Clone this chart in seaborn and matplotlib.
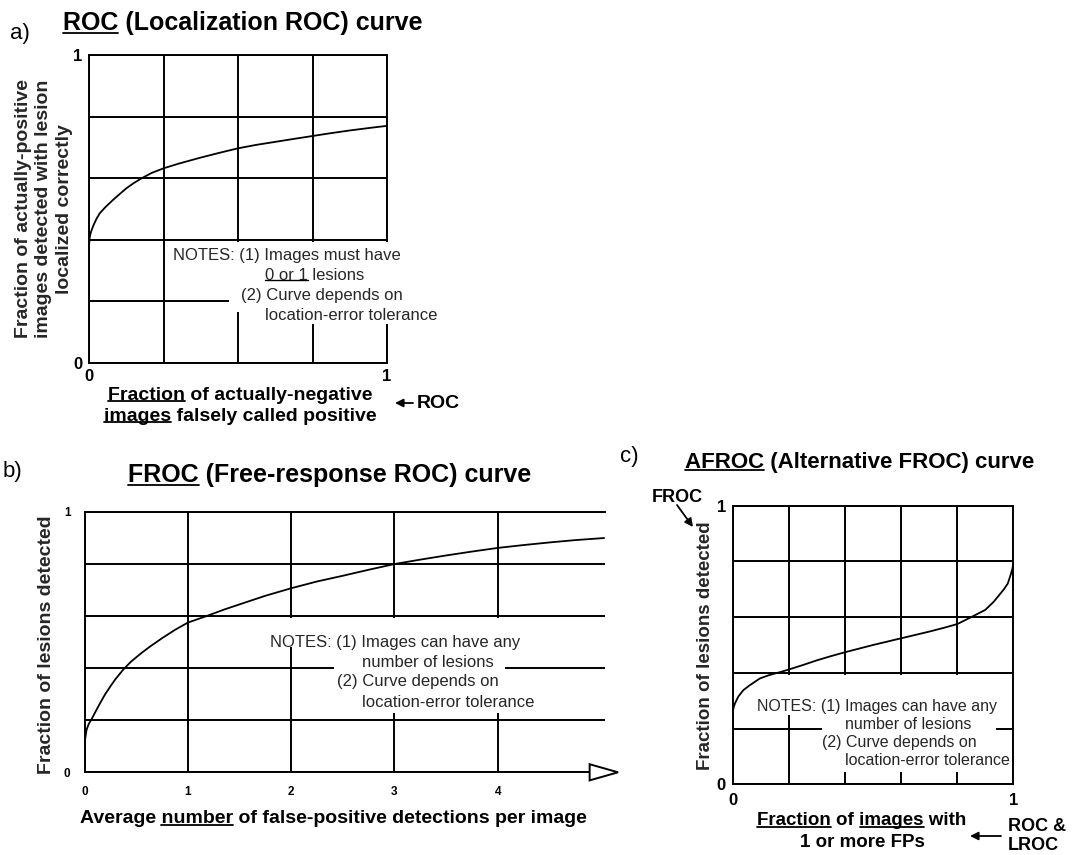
import numpy as np
import pandas as pd
import seaborn as sns
import matplotlib.pyplot as plt
from matplotlib.patches import Rectangle, Polygon, FancyArrowPatch
from matplotlib.lines import Line2D

# figure size in pixels
W, H = 1072, 855

# curve values
roc_x = [0, 0.002, 0.005, 0.009, 0.015, 0.025, 0.036, 0.055, 0.08, 0.1, 0.125, 0.15, 0.177,
         0.21, 0.25, 0.3, 0.375, 0.44, 0.5, 0.56, 0.625, 0.69, 0.75, 0.81, 0.875, 0.94, 1.0]
roc_y = [0.378, 0.405, 0.42, 0.432, 0.447, 0.468, 0.486, 0.506, 0.529, 0.546, 0.567, 0.584, 0.6,
         0.617, 0.632, 0.647, 0.667, 0.683, 0.697, 0.708, 0.718, 0.728, 0.737, 0.746, 0.755, 0.763, 0.77]

froc_x = [0, 0.005, 0.02, 0.04, 0.07, 0.1, 0.15, 0.2, 0.25, 0.3, 0.376, 0.45, 0.55, 0.634, 0.75,
          0.875, 1.0, 1.18, 1.35, 1.5, 1.75, 2.0, 2.25, 2.5, 2.75, 3.0, 3.25, 3.5, 3.75, 4.0,
          4.25, 4.5, 4.75, 5.03]
froc_y = [0.10, 0.125, 0.163, 0.185, 0.205, 0.228, 0.265, 0.3, 0.33, 0.358, 0.395, 0.425, 0.458, 0.483,
          0.515, 0.547, 0.575, 0.6, 0.625, 0.645, 0.678, 0.707, 0.733, 0.755, 0.778, 0.8, 0.817,
          0.833, 0.848, 0.862, 0.873, 0.883, 0.892, 0.9]

afroc_x = [0, 0.003, 0.008, 0.02, 0.038, 0.06, 0.097, 0.13, 0.17, 0.2, 0.25, 0.3, 0.35, 0.4, 0.45,
           0.5, 0.55, 0.6, 0.65, 0.7, 0.75, 0.8, 0.85, 0.9, 0.93, 0.965, 0.98, 0.99, 0.997, 1.0]
afroc_y = [0.255, 0.275, 0.29, 0.315, 0.338, 0.355, 0.38, 0.392, 0.403, 0.412, 0.428, 0.445, 0.46, 0.474,
           0.487, 0.5, 0.512, 0.524, 0.536, 0.548, 0.561, 0.575, 0.6, 0.626, 0.655, 0.698, 0.72,
           0.75, 0.775, 0.795]

# grid positions and tick labels
a_xticks = [0, 0.25, 0.5, 0.75, 1]
a_yticks = [0, 0.2, 0.4, 0.6, 0.8, 1]
b_xticks = [0, 1, 2, 3, 4]
b_yticks = [0, 0.2, 0.4, 0.6, 0.8, 1]
c_xticks = [0, 0.2, 0.4, 0.6, 0.8, 1]
c_yticks = [0, 0.2, 0.4, 0.6, 0.8, 1]
a_xlabels = ['0', '', '', '', '1']
a_ylabels = ['0', '', '', '', '', '1']
b_xlabels = ['0', '1', '2', '3', '4']
b_ylabels = ['0', '', '', '', '', '1']
c_xlabels = ['0', '', '', '', '', '1']
c_ylabels = ['0', '', '', '', '', '1']

sns.set_theme(style='white')
plt.rcParams['font.family'] = ['Liberation Sans', 'DejaVu Sans']

fig = plt.figure(figsize=(W / 100, H / 100), dpi=100)
renderer = fig.canvas.get_renderer()

LW = 1.4


def fx(x):
    return x / W


def fy(y):
    return 1 - y / H


def axes_px(left, top, right, bottom):
    return fig.add_axes([fx(left), fy(bottom), (right - left) / W, (bottom - top) / H])


def style_axes(ax, xt, yt, xl, yl, size, xpad, ypad):
    ax.set_xticks(xt)
    ax.set_yticks(yt)
    ax.set_xticklabels(xl, fontsize=size, fontweight='bold')
    ax.set_yticklabels(yl, fontsize=size, fontweight='bold')
    ax.tick_params(axis='x', length=0, pad=xpad, colors='black')
    ax.tick_params(axis='y', length=0, pad=ypad, colors='black')
    ax.grid(True, color='black', lw=LW)
    for s in ax.spines.values():
        s.set_color('black')
        s.set_linewidth(LW)
    ax.set_xlabel('')
    ax.set_ylabel('')


def measure(s, fp):
    t = fig.text(0, 0, s, fontproperties=fp)
    w = t.get_window_extent(renderer).width
    t.remove()
    return w


def underline(t, sub, lw=1.3, off=2):
    s = t.get_text()
    fp = t.get_fontproperties()
    bb = t.get_window_extent(renderer)
    i = s.index(sub)
    w_end = measure(s[:i] + sub, fp)
    x0 = bb.x0 + (w_end - measure(sub, fp) if i > 0 else 0)
    x1 = bb.x0 + w_end
    yy = bb.y0 + off
    fig.add_artist(Line2D([x0 / W, x1 / W], [yy / H, yy / H], color='black', lw=lw))


def ftext(x, y, s, ha='left', **kw):
    return fig.text(fx(x), fy(y), s, ha=ha, va='center', color='black', **kw)


def blank(ax, x0, y0, x1, y1):
    ax.add_patch(Rectangle((x0, y0), x1 - x0, y1 - y0, fc='white', ec='none',
                           zorder=2.6, clip_on=False))


def arrow(p0, p1):
    fig.add_artist(FancyArrowPatch((fx(p0[0]), fy(p0[1])), (fx(p1[0]), fy(p1[1])),
                                   transform=fig.transFigure, arrowstyle='-|>',
                                   mutation_scale=12, color='black', lw=1.3,
                                   shrinkA=0, shrinkB=0))


# ---------------- a) ROC ----------------
ax_a = axes_px(89, 55, 387, 363)
sns.lineplot(x=roc_x, y=roc_y, ax=ax_a, color='black', lw=1.3, zorder=4)
ax_a.set_xlim(0, 1)
ax_a.set_ylim(0, 1)
style_axes(ax_a, a_xticks, a_yticks, a_xlabels, a_ylabels, 12, 4, 5)
blank(ax_a, 0.47, 0.165, 0.56, 0.394)
blank(ax_a, 0.56, 0.125, 1.02, 0.394)
ax_a.text(0.282, 0.35, 'NOTES: (1) Images must have', fontsize=12, va='center', zorder=3)
t = ax_a.text(0.59, 0.284, '0 or 1 lesions', fontsize=12, va='center', zorder=3)
underline(t, '0 or 1', lw=1.0, off=3)
ax_a.text(0.51, 0.218, '(2) Curve depends on', fontsize=12, va='center', zorder=3)
ax_a.text(0.59, 0.154, 'location-error tolerance', fontsize=12, va='center', zorder=3)

ftext(10, 33, 'a)', fontsize=16)
t = ftext(63, 23, 'ROC (Localization ROC) curve', fontsize=18, fontweight='bold')
underline(t, 'ROC')
fig.text(fx(44), fy(209), 'Fraction of actually-positive\nimages detected with lesion\nlocalized correctly',
         rotation=90, ha='center', va='center', fontsize=14, fontweight='bold',
         linespacing=1.25, multialignment='center')
t = ftext(240, 395, 'Fraction of actually-negative', ha='center', fontsize=14, fontweight='bold')
underline(t, 'Fraction')
t = ftext(240, 416, 'images falsely called positive', ha='center', fontsize=14, fontweight='bold')
underline(t, 'images')
arrow((413, 403), (395, 403))
ftext(417, 403, 'ROC', fontsize=14, fontweight='bold')

# ---------------- b) FROC ----------------
ax_b = axes_px(84.5, 512, 605, 772.3)
sns.lineplot(x=froc_x, y=froc_y, ax=ax_b, color='black', lw=1.3, zorder=4)
ax_b.set_xlim(0, 520.5 / 103.3)
ax_b.set_ylim(0, 1)
style_axes(ax_b, b_xticks, b_yticks, b_xlabels, b_ylabels, 8.5, 10, 10)
ax_b.spines['right'].set_visible(False)
ax_b.spines['bottom'].set_bounds(0, 4.89)
ax_b.add_patch(Polygon([(4.89, -0.031), (5.165, 0), (4.89, 0.031)], closed=True,
                       fc='white', ec='black', lw=LW, clip_on=False, zorder=5))
blank(ax_b, 1.78, 0.482, 4.36, 0.594)
blank(ax_b, 2.42, 0.227, 4.07, 0.482)
ax_b.text(1.796, 0.50, 'NOTES: (1) Images can have any', fontsize=12, va='center', zorder=3)
ax_b.text(2.686, 0.42, 'number of lesions', fontsize=12, va='center', zorder=3)
ax_b.text(2.444, 0.347, '(2) Curve depends on', fontsize=12, va='center', zorder=3)
ax_b.text(2.686, 0.27, 'location-error tolerance', fontsize=12, va='center', zorder=3)

ftext(3, 471, 'b)', fontsize=16)
t = ftext(128, 475, 'FROC (Free-response ROC) curve', fontsize=18, fontweight='bold')
underline(t, 'FROC')
fig.text(fx(47), fy(645), 'Fraction of lesions detected', rotation=90, ha='center',
         va='center', fontsize=14, fontweight='bold')
t = ftext(333, 818, 'Average number of false-positive detections per image', ha='center',
          fontsize=14, fontweight='bold')
underline(t, 'number')

# ---------------- c) AFROC ----------------
ax_c = axes_px(732.7, 505.7, 1013.3, 784.3)
sns.lineplot(x=afroc_x, y=afroc_y, ax=ax_c, color='black', lw=1.3, zorder=4)
ax_c.set_xlim(0, 1)
ax_c.set_ylim(0, 1)
style_axes(ax_c, c_xticks, c_yticks, c_xlabels, c_ylabels, 12, 6, 5)
blank(ax_c, 0.08, 0.25, 0.99, 0.393)
blank(ax_c, 0.32, 0.045, 0.94, 0.25)
ax_c.text(0.088, 0.281, 'NOTES: (1) Images can have any', fontsize=11.5, va='center', zorder=3)
ax_c.text(0.40, 0.216, 'number of lesions', fontsize=11.5, va='center', zorder=3)
ax_c.text(0.317, 0.149, '(2) Curve depends on', fontsize=11.5, va='center', zorder=3)
ax_c.text(0.40, 0.084, 'location-error tolerance', fontsize=11.5, va='center', zorder=3)

ftext(620, 456, 'c)', fontsize=16)
t = ftext(685, 462, 'AFROC (Alternative FROC) curve', fontsize=16, fontweight='bold')
underline(t, 'AFROC')
fig.text(fx(705), fy(646), 'Fraction of lesions detected', rotation=90, ha='center',
         va='center', fontsize=13.5, fontweight='bold')
ftext(652, 497, 'FROC', fontsize=13, fontweight='bold')
arrow((677, 505), (693, 527))
t = ftext(862, 820, 'Fraction of images with', ha='center', fontsize=13.5, fontweight='bold')
underline(t, 'Fraction')
underline(t, 'images')
ftext(862, 842, '1 or more FPs', ha='center', fontsize=13.5, fontweight='bold')
ftext(1008, 826, 'ROC &', fontsize=13, fontweight='bold')
ftext(1008, 845, 'LROC', fontsize=13, fontweight='bold')
arrow((1001, 836), (970, 836))

fig.savefig('out.png', dpi=100, facecolor='white')
